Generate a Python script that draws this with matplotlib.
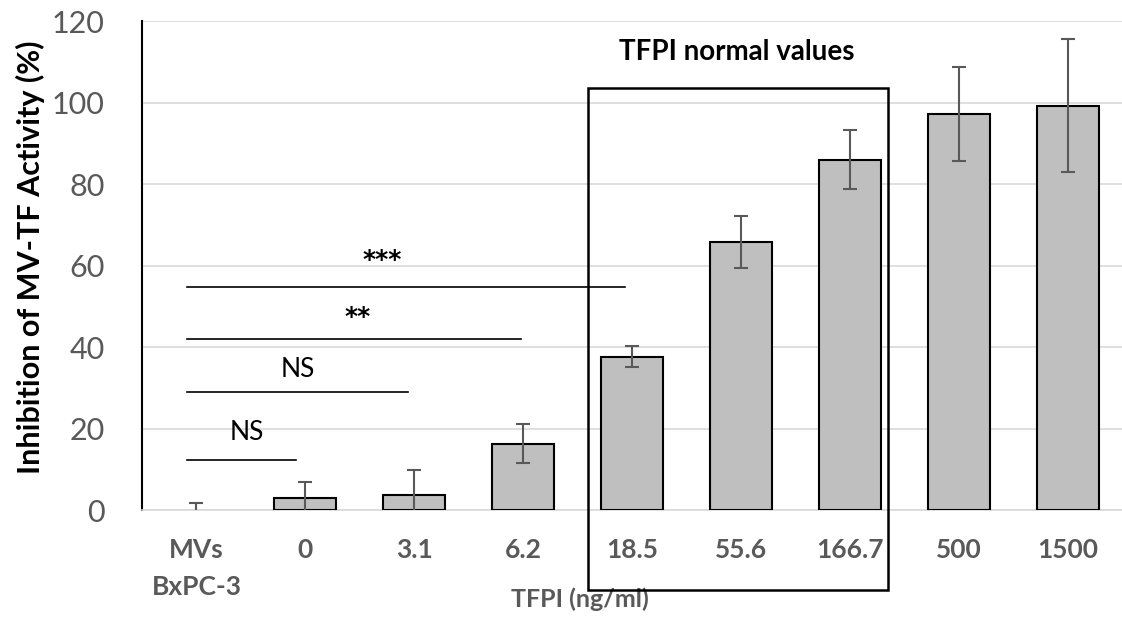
import matplotlib.pyplot as plt
from matplotlib.patches import Rectangle

plt.rcParams['font.family'] = ['Lato', 'DejaVu Sans']

# Inhibition data per TFPI concentration
categories = ["MVs\nBxPC-3", "0", "3.1", "6.2", "18.5", "55.6", "166.7", "500", "1500"]
inhibition = [0, 3.0, 3.8, 16.3, 37.7, 65.8, 86.0, 97.2, 99.2]
errors = [1.8, 4.0, 6.0, 4.8, 2.6, 6.4, 7.2, 11.6, 16.3]

# significance bars: (end position, height, label, label x, label y)
sig_ends = [0.91, 1.94, 2.98, 3.94]
sig_heights = [12.3, 29.0, 42.0, 54.7]
sig_labels = ["NS", "NS", "**", "***"]
sig_label_x = [0.46, 0.93, 1.48, 1.71]
sig_label_y = [19.0, 34.5, 47.5, 61.5]

fig = plt.figure(figsize=(11.22, 6.2), dpi=100)
ax = fig.add_axes([0.1266, 0.177, 0.8734, 0.789])

x = list(range(len(categories)))
# no outline on empty bars
edge_w = [1.5 if v > 0 else 0 for v in inhibition]
ax.bar(x, inhibition, width=0.57, color="#BFBFBF", edgecolor="black", linewidth=edge_w, zorder=3)
ax.errorbar(x, inhibition, yerr=errors, fmt="none", ecolor="#595959", elinewidth=1.5,
            capsize=5, capthick=1.5, zorder=4)

ax.set_xlim(-0.5, 8.5)
ax.set_ylim(0, 120)
ax.set_yticks(range(0, 121, 20))
ax.yaxis.grid(True, color="#D9D9D9", linewidth=1.2, zorder=0)
ax.set_axisbelow(True)

for side in ["top", "right"]:
    ax.spines[side].set_visible(False)
ax.spines["left"].set_color("black")
ax.spines["left"].set_linewidth(1.5)
ax.spines["bottom"].set_color("#D9D9D9")
ax.spines["bottom"].set_linewidth(1.2)

ax.tick_params(axis="both", length=0)
ax.tick_params(axis="y", labelsize=22, labelcolor="#595959", pad=27)
ax.set_xticks(x)
ax.set_xticklabels(categories, fontsize=19, fontweight="bold", color="#595959",
                   linespacing=1.65, va="top")
ax.tick_params(axis="x", pad=20)

ax.set_ylabel("Inhibition of MV-TF Activity (%)", fontsize=22, fontweight="bold")
ax.yaxis.set_label_coords(-0.099, 0.517)
ax.set_xlabel("TFPI (ng/ml)", fontsize=18, fontweight="bold", color="#595959")
ax.xaxis.set_label_coords(0.447, -0.158)

# significance lines
for end, h, lab, lx, ly in zip(sig_ends, sig_heights, sig_labels, sig_label_x, sig_label_y):
    ax.plot([-0.09, end], [h, h], color="black", linewidth=1.2, zorder=5)
    if "*" in lab:
        ax.text(lx, ly, lab, ha="center", va="center", fontsize=18, fontweight="bold",
                family="DejaVu Sans", zorder=5)
    else:
        ax.text(lx, ly, lab, ha="center", va="center", fontsize=19, zorder=5)

# box around the normal TFPI range
ax.add_patch(Rectangle((3.6, -19.6), 2.75, 123.2, fill=False, edgecolor="black",
                       linewidth=1.8, clip_on=False, zorder=6))
ax.text(4.96, 112.4, "TFPI normal values", ha="center", va="center", fontsize=20,
        fontweight="bold", clip_on=False)

fig.savefig("out.png", dpi=100)
